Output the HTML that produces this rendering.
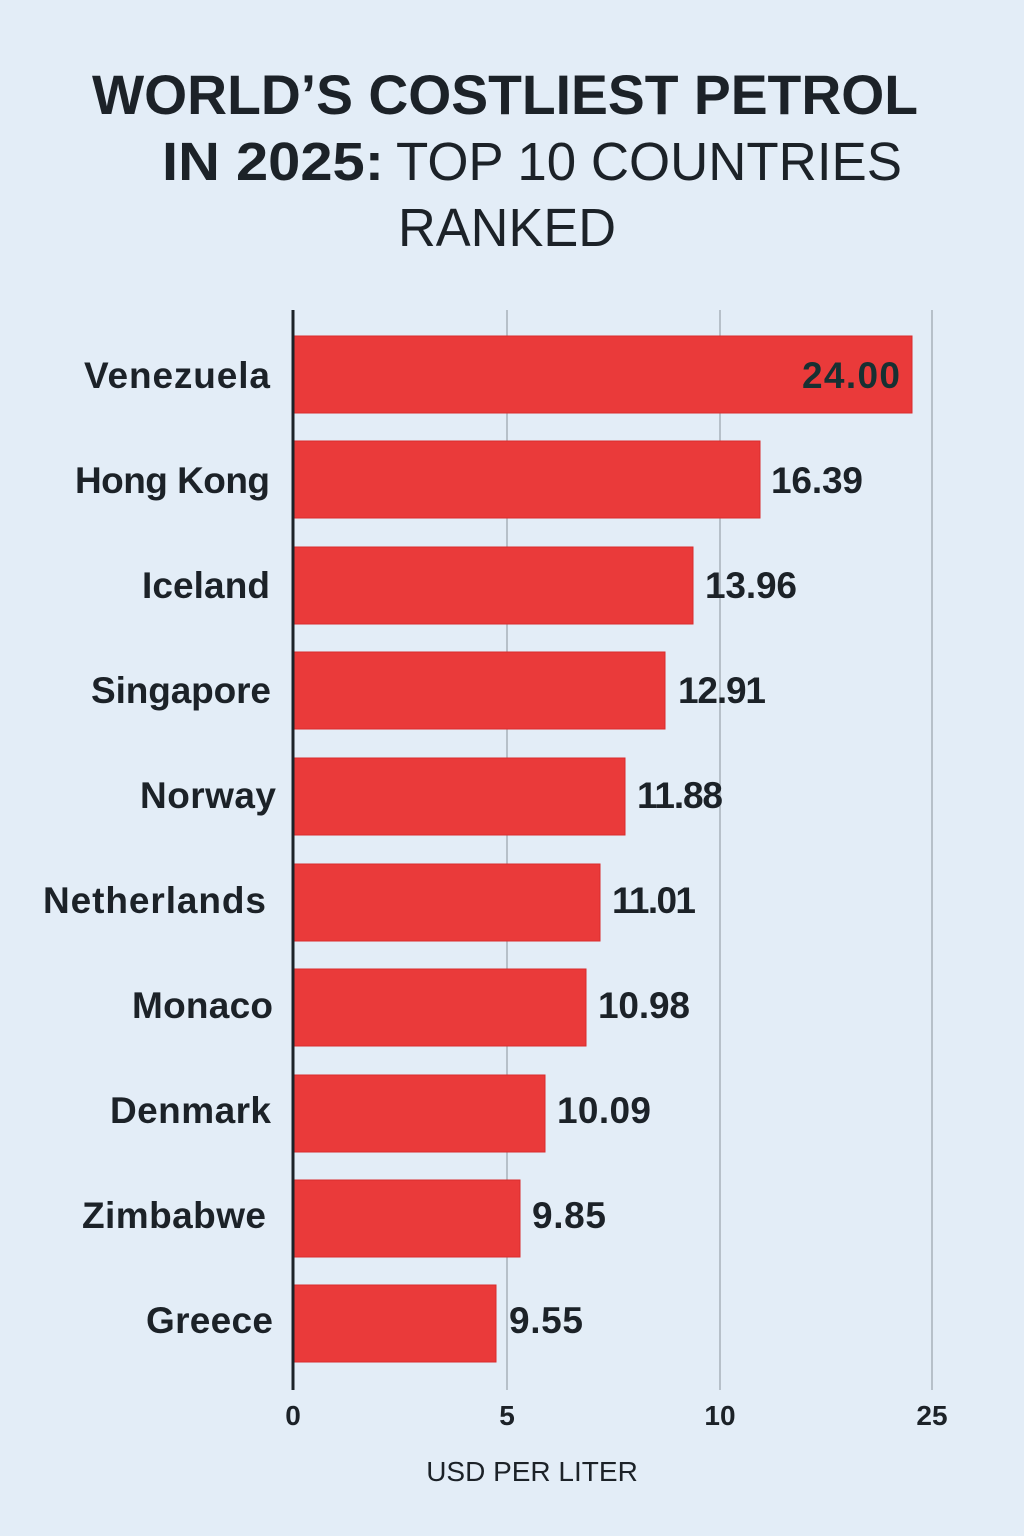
<!DOCTYPE html>
<html><head><meta charset="utf-8"><style>
html,body{margin:0;padding:0;background:#e3edf7;}
svg{display:block;}
text{font-family:"Liberation Sans",sans-serif;fill:#1c2228;}
</style></head><body>
<svg width="1024" height="1536" viewBox="0 0 1024 1536" xmlns="http://www.w3.org/2000/svg">
<rect width="1024" height="1536" fill="#e3edf7"/>
<text x="92" y="114" font-size="56" font-weight="bold" textLength="826" lengthAdjust="spacingAndGlyphs">WORLD’S COSTLIEST PETROL</text>
<text x="162" y="180" font-size="54" font-weight="bold" textLength="222" lengthAdjust="spacingAndGlyphs">IN 2025:</text>
<text x="396" y="180" font-size="54" textLength="506" lengthAdjust="spacingAndGlyphs">TOP 10 COUNTRIES</text>
<text x="398" y="246" font-size="54" textLength="218" lengthAdjust="spacingAndGlyphs">RANKED</text>
<g stroke="#9aa3ab" stroke-width="1.2">
<line x1="507" y1="310" x2="507" y2="1390"/>
<line x1="720" y1="310" x2="720" y2="1390"/>
<line x1="932" y1="310" x2="932" y2="1390"/>
</g>
<g fill="#ea3a3a" stroke="#d92c2c" stroke-width="1">
<rect x="293" y="336" width="619" height="77"/>
<rect x="293" y="441" width="467" height="77"/>
<rect x="293" y="547" width="400" height="77"/>
<rect x="293" y="652" width="372" height="77"/>
<rect x="293" y="758" width="332" height="77"/>
<rect x="293" y="864" width="307" height="77"/>
<rect x="293" y="969" width="293" height="77"/>
<rect x="293" y="1075" width="252" height="77"/>
<rect x="293" y="1180" width="227" height="77"/>
<rect x="293" y="1285" width="203" height="77"/>
</g>
<line x1="293" y1="310" x2="293" y2="1390" stroke="#1c2228" stroke-width="3"/>
<g font-size="37" font-weight="bold" lengthAdjust="spacingAndGlyphs">
<text x="84" y="388" textLength="186">Venezuela</text>
<text x="75" y="493" textLength="195">Hong Kong</text>
<text x="142" y="598" textLength="128">Iceland</text>
<text x="91" y="703" textLength="180">Singapore</text>
<text x="140" y="808" textLength="136">Norway</text>
<text x="43" y="913" textLength="223">Netherlands</text>
<text x="132" y="1018" textLength="141">Monaco</text>
<text x="110" y="1123" textLength="161">Denmark</text>
<text x="82" y="1228" textLength="184">Zimbabwe</text>
<text x="146" y="1333" textLength="127">Greece</text>
</g>
<g font-size="37" font-weight="bold" lengthAdjust="spacingAndGlyphs">
<text x="802" y="388" textLength="98" style="fill:#173032">24.00</text>
<text x="771" y="493" textLength="92">16.39</text>
<text x="705" y="598" textLength="92">13.96</text>
<text x="678" y="703" textLength="88">12.91</text>
<text x="637" y="808" textLength="86">11.88</text>
<text x="612" y="913" textLength="84">11.01</text>
<text x="598" y="1018" textLength="92">10.98</text>
<text x="557" y="1123" textLength="94">10.09</text>
<text x="532" y="1228" textLength="74">9.85</text>
<text x="509" y="1333" textLength="74">9.55</text>
</g>
<g font-size="28" text-anchor="middle" font-weight="600">
<text x="293" y="1425">0</text>
<text x="507" y="1425">5</text>
<text x="720" y="1425">10</text>
<text x="932" y="1425">25</text>
</g>
<text x="532" y="1481" font-size="28" text-anchor="middle">USD PER LITER</text>
</svg>
</body></html>
